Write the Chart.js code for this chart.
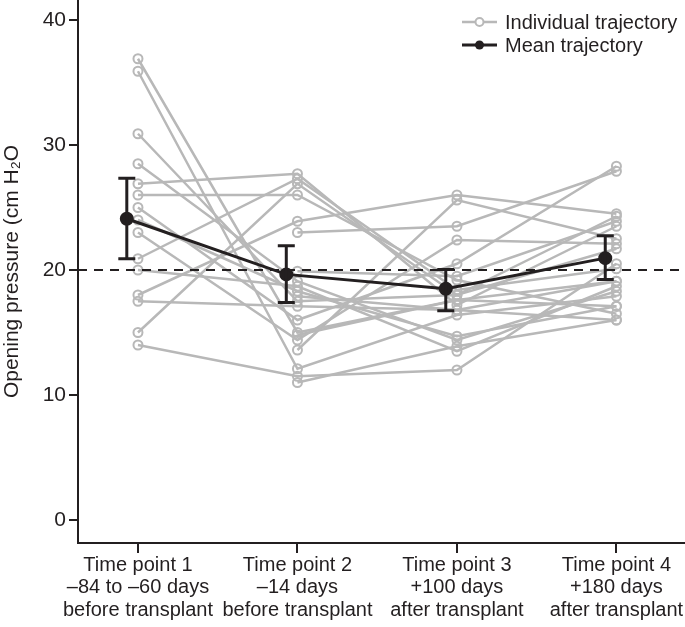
<!DOCTYPE html>
<html>
<head>
<meta charset="utf-8">
<script src="https://cdn.jsdelivr.net/npm/chart.js@4.4.0/dist/chart.umd.min.js"></script>
<style>
  html, body { margin: 0; padding: 0; background: #fff; }
  #wrap { width: 685px; height: 627px; }
</style>
</head>
<body>
<div id="wrap"><canvas id="c"></canvas></div>
<script>
// Datos
const timeLabels = [
  ["Time point 1", "\u201384 to \u201360 days", "before transplant"],
  ["Time point 2", "\u201314 days", "before transplant"],
  ["Time point 3", "+100 days", "after transplant"],
  ["Time point 4", "+180 days", "after transplant"]
];
const yTicks = [0, 10, 20, 30, 40];
const threshold = 20;

// un valor por paciente en cada punto temporal (null = sin medida)
const tp1 = [36.9, 35.9, 30.9, 28.5, 26.9, 26.0, 25.0, 24.0, 23.0, 20.9, 20.0, 18.0, 17.5, 15.0, 14.0, null, null, null, null, null, null];
const tp2 = [15.0, 12.1, 17.5, 19.1, 27.7, 26.0, 16.0, 18.3, 14.4, 27.3, 18.7, 23.9, 17.1, 26.9, 11.5, 23.0, 19.9, 13.6, 11.0, 14.8, 17.9];
const tp3 = [17.6, 16.4, 18.0, 14.4, 17.2, 19.2, 20.5, 14.7, 22.4, 18.4, 13.5, 26.0, 16.8, 18.0, 12.0, 23.5, 19.5, 25.6, 13.9, 17.6, 16.8];
const tp4 = [19.1, 17.9, 24.3, 18.3, 23.5, 16.5, 28.3, 17.1, 22.1, 20.1, 18.7, 24.5, 16.0, 21.7, 20.5, 27.9, 23.9, 22.5, 16.0, 17.1, 19.1];

const meanValues = [24.1, 19.65, 18.5, 20.95];
const meanUpper = [27.35, 21.95, 20.05, 22.75];
const meanLower = [20.9, 17.4, 16.75, 19.25];

const GREY = "#b8b8b8";
const BLACK = "#231f20";
const FONT = "'Liberation Sans', Arial, sans-serif";
const MEAN_SHIFT = -0.07;
const X_MIN = -0.376, X_MAX = 3.43;

const individualSets = tp1.map((_, i) => ({
  label: "Individual trajectory",
  data: [tp1[i], tp2[i], tp3[i], tp4[i]].map((v, k) => ({ x: k, y: v })),
  borderColor: GREY,
  borderWidth: 2.5,
  pointRadius: 4.5,
  pointBorderWidth: 2,
  pointBorderColor: GREY,
  pointBackgroundColor: "rgba(0,0,0,0)",
  spanGaps: false
}));

const errorBars = {
  id: "errorBars",
  afterDatasetsDraw(chart) {
    const { ctx, scales: { x, y } } = chart;
    ctx.save();
    ctx.strokeStyle = BLACK;
    ctx.lineWidth = 3;
    meanValues.forEach((m, i) => {
      const px = x.getPixelForValue(i + MEAN_SHIFT);
      const top = y.getPixelForValue(meanUpper[i]);
      const bot = y.getPixelForValue(meanLower[i]);
      ctx.beginPath();
      ctx.moveTo(px, top); ctx.lineTo(px, bot);
      ctx.moveTo(px - 8.5, top); ctx.lineTo(px + 8.5, top);
      ctx.moveTo(px - 8.5, bot); ctx.lineTo(px + 8.5, bot);
      ctx.stroke();
    });
    ctx.restore();
  }
};

const legendBox = {
  id: "legendBox",
  afterDraw(chart) {
    const { ctx } = chart;
    const rows = [
      { text: "Individual trajectory", color: GREY, y: 22, filled: false },
      { text: "Mean trajectory", color: BLACK, y: 45, filled: true }
    ];
    ctx.save();
    ctx.font = "20px " + FONT;
    ctx.textBaseline = "middle";
    rows.forEach(r => {
      ctx.strokeStyle = r.color;
      ctx.lineWidth = r.filled ? 3 : 2.5;
      ctx.beginPath();
      ctx.moveTo(462, r.y); ctx.lineTo(497, r.y);
      ctx.stroke();
      ctx.beginPath();
      ctx.arc(479.5, r.y, r.filled ? 4.5 : 4, 0, Math.PI * 2);
      if (r.filled) { ctx.fillStyle = r.color; ctx.fill(); }
      else { ctx.fillStyle = "#fff"; ctx.fill(); ctx.lineWidth = 2; ctx.stroke(); }
      ctx.fillStyle = BLACK;
      ctx.fillText(r.text, 505, r.y + 1);
    });
    ctx.restore();
  }
};

new Chart(document.getElementById("c"), {
  type: "line",
  data: {
    datasets: [
      {
        label: "Mean trajectory",
        data: meanValues.map((v, k) => ({ x: k + MEAN_SHIFT, y: v })),
        borderColor: BLACK,
        backgroundColor: BLACK,
        borderWidth: 3,
        pointRadius: 5.5,
        pointBackgroundColor: BLACK,
        pointBorderColor: BLACK
      },
      {
        label: "threshold",
        data: [{ x: X_MIN, y: threshold }, { x: X_MAX, y: threshold }],
        borderColor: BLACK,
        borderWidth: 2,
        borderDash: [9, 7],
        pointRadius: 0
      },
      ...individualSets
    ]
  },
  options: {
    responsive: true,
    maintainAspectRatio: false,
    animation: false,
    layout: { padding: 0, autoPadding: false },
    plugins: { legend: { display: false }, tooltip: { enabled: false } },
    scales: {
      x: {
        type: "linear",
        min: X_MIN,
        max: X_MAX,
        afterBuildTicks: s => { s.ticks = timeLabels.map((_, i) => ({ value: i })); },
        afterFit: s => { s.height = 84; s.paddingLeft = 0; s.paddingRight = 0; },
        ticks: {
          callback: v => timeLabels[v],
          color: BLACK,
          font: { family: FONT, size: 20, lineHeight: 1.12 },
          padding: 1,
          maxRotation: 0,
          autoSkip: false
        },
        grid: { drawOnChartArea: false, tickLength: 10, color: BLACK, lineWidth: 2 },
        border: { color: BLACK, width: 2 }
      },
      y: {
        min: -1.84,
        max: 41.6,
        afterBuildTicks: s => { s.ticks = yTicks.map(v => ({ value: v })); },
        afterFit: s => { s.width = 78; s.paddingTop = 0; s.paddingBottom = 0; },
        ticks: {
          color: BLACK,
          font: { family: FONT, size: 21 },
          padding: 3
        },
        grid: { drawOnChartArea: false, tickLength: 9, color: BLACK, lineWidth: 2 },
        border: { color: BLACK, width: 2 },
        title: {
          display: true,
          text: "Opening pressure (cm H\u2082O",
          color: BLACK,
          font: { family: FONT, size: 21 },
          padding: { top: 0, bottom: 0 }
        }
      }
    }
  },
  plugins: [errorBars, legendBox]
});
</script>
</body>
</html>
